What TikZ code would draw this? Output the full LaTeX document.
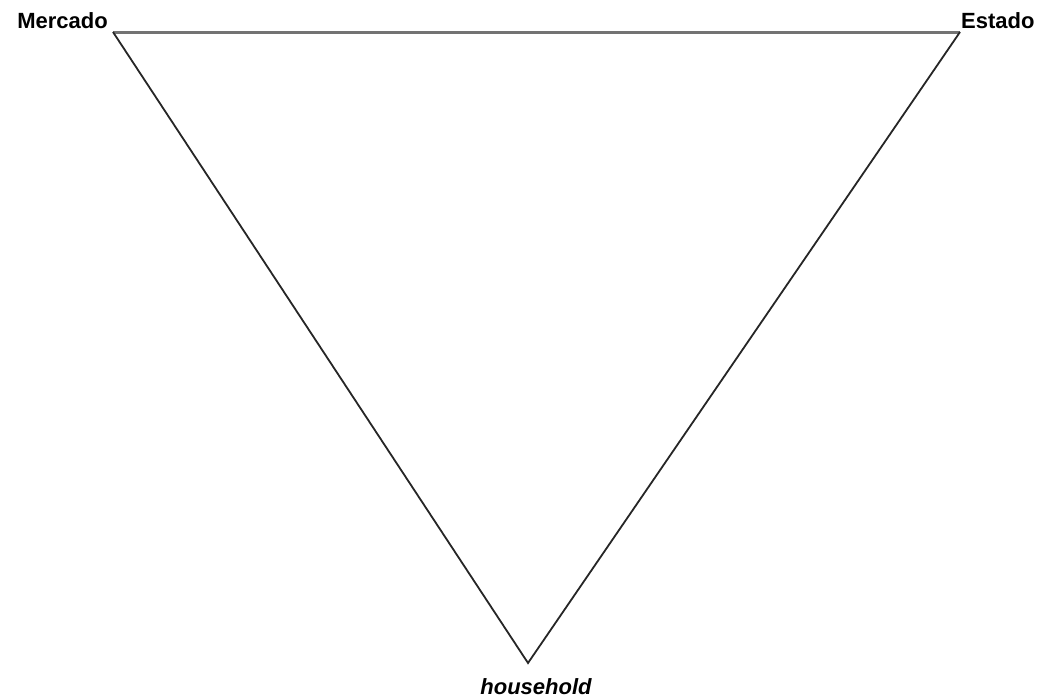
\documentclass[tikz,border=0pt]{standalone}
\usepackage{fontspec}
\setmainfont{Liberation Sans}
\usetikzlibrary{positioning}

\tikzset{
  lbl/.style={font=\fontsize{22}{25}\selectfont\bfseries, inner sep=0pt},
  side/.style={line width=1.8pt, black!85},
  topside/.style={line width=3pt, black!55}
}

\begin{document}
\begin{tikzpicture}[x=1pt,y=-1pt]
  \useasboundingbox (0,0) rectangle (1040,697);
  % vertices
  \coordinate (mc) at (113,32);
  \coordinate (es) at (960,32);
  \coordinate (hh) at (528,663);
  % labels
  \node[lbl,anchor=base east] (mercado) at (108,28) {Mercado};
  \node[lbl,anchor=base west] (estado) at (961,28) {Estado};
  \node[lbl,anchor=base] (household) at (536,694) {\itshape household};
  % triangle
  \draw[topside] (mc) -- (es);
  \draw[side] (mc) -- (hh) -- (es);
\end{tikzpicture}
\end{document}
